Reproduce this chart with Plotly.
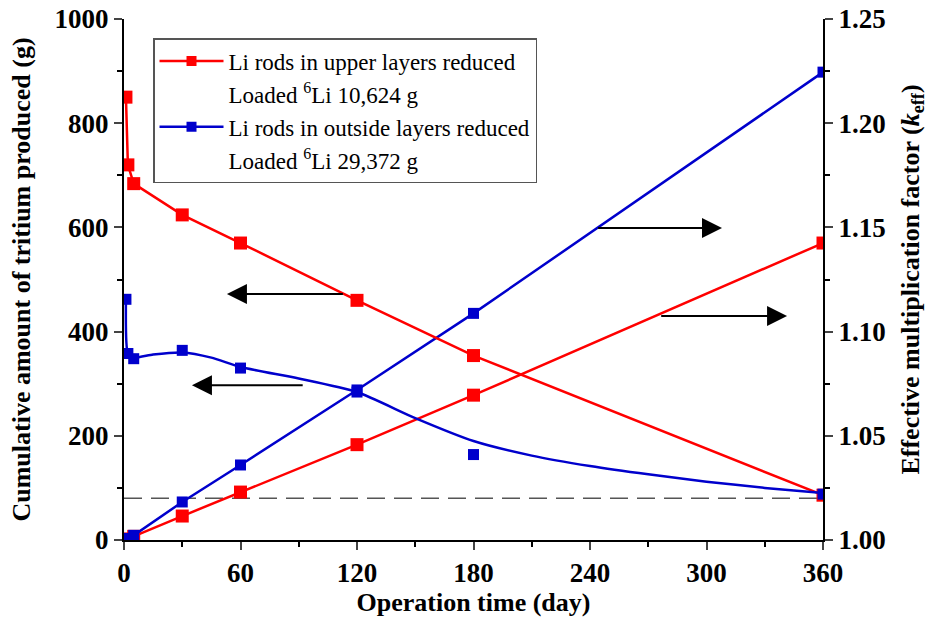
import plotly.graph_objects as go

# Operation time (day) for the sampled points
days = [1, 2, 5, 30, 60, 120, 180, 360]

# Effective multiplication factor at each sampled day
keff_upper = [1.2125, 1.180, 1.171, 1.156, 1.1425, 1.115, 1.0885, 1.0215]
keff_outside = [1.1155, 1.0895, 1.087, 1.091, 1.0825, 1.071, 1.041, 1.022]

# Fitted k_eff curve for the outside-layer case
fit_days = [1, 2, 5, 15, 30, 45, 60, 90, 120, 150, 180, 210, 240, 270, 300, 330, 360]
fit_keff_outside = [1.1155, 1.0895, 1.0875, 1.089, 1.090, 1.0875, 1.083, 1.0775,
                    1.071, 1.0585, 1.0475, 1.0405, 1.0355, 1.0315, 1.028, 1.025, 1.0225]

# Cumulative tritium produced (g)
trit_days = [1, 5, 30, 60, 120, 180, 360]
tritium_upper = [2, 7, 46, 92, 183, 278, 570]
tritium_outside = [3, 9, 73, 144, 288, 435, 898]

keff_limit = 1.02

x_ticks = [0, 60, 120, 180, 240, 300, 360]

legend_rows = [
    ("Li rods in upper layers reduced", "Loaded <sup>6</sup>Li 10,624 g"),
    ("Li rods in outside layers reduced", "Loaded <sup>6</sup>Li 29,372 g"),
]

RED = "#ff0000"
BLUE = "#0000cc"
FONT = "Liberation Serif"

fig = go.Figure()

# k_eff curves (right axis)
fig.add_trace(go.Scatter(x=days, y=keff_upper, yaxis="y2", mode="lines+markers",
                         line=dict(color=RED, width=2.5),
                         marker=dict(symbol="square", size=13, color=RED),
                         showlegend=False))
fig.add_trace(go.Scatter(x=fit_days, y=fit_keff_outside, yaxis="y2", mode="lines",
                         line=dict(color=BLUE, width=2.5, shape="spline", smoothing=0.6),
                         showlegend=False))
fig.add_trace(go.Scatter(x=days, y=keff_outside, yaxis="y2", mode="markers",
                         marker=dict(symbol="square", size=11, color=BLUE),
                         showlegend=False))

# Tritium curves (left axis)
fig.add_trace(go.Scatter(x=trit_days, y=tritium_upper, mode="lines+markers",
                         line=dict(color=RED, width=2.5),
                         marker=dict(symbol="square", size=13, color=RED),
                         showlegend=False))
fig.add_trace(go.Scatter(x=trit_days, y=tritium_outside, mode="lines+markers",
                         line=dict(color=BLUE, width=2.5),
                         marker=dict(symbol="square", size=11, color=BLUE),
                         showlegend=False))

# Legend entries: a symbol row followed by a text-only row for the loaded 6Li mass
for i, ((label, loaded), color) in enumerate(zip(legend_rows, [RED, BLUE])):
    fig.add_trace(go.Scatter(x=[None], y=[None], mode="lines+markers", name=label,
                             legendgroup=f"g{i}a",
                             line=dict(color=color, width=2.5),
                             marker=dict(symbol="square", size=10, color=color)))
    fig.add_trace(go.Scatter(x=[None], y=[None], mode="lines", name=loaded,
                             legendgroup=f"g{i}b",
                             line=dict(color="rgba(0,0,0,0)", width=0)))

# k_eff = 1.02 reference line
fig.add_shape(type="line", xref="paper", x0=0, x1=1, yref="y2", y0=keff_limit, y1=keff_limit,
              line=dict(color="#555555", width=1.5, dash="18px,9px"), layer="below")

# Arrows indicating which axis each curve belongs to
arrows = [
    dict(tail=(113.5, 472), head=(53.0, 472)),
    dict(tail=(92.8, 297), head=(35.0, 297)),
    dict(tail=(243.4, 599), head=(308.0, 599)),
    dict(tail=(275.9, 430), head=(341.5, 430)),
]
for a in arrows:
    fig.add_annotation(x=a["head"][0], y=a["head"][1], ax=a["tail"][0], ay=a["tail"][1],
                       xref="x", yref="y", axref="x", ayref="y", text="",
                       showarrow=True, arrowhead=2, arrowsize=2, arrowwidth=2,
                       arrowcolor="black")

tick_font = dict(family=FONT, size=27, color="black", weight="bold")
title_font = dict(family=FONT, size=26, color="black", weight="bold")

fig.update_layout(
    width=940, height=617,
    margin=dict(l=124, r=117, t=19, b=77, autoexpand=False),
    paper_bgcolor="white", plot_bgcolor="white",
    font=dict(family=FONT, color="black"),
    xaxis=dict(range=[0, 360], tickvals=x_ticks, ticks="outside", ticklen=8, tickwidth=2,
               showline=True, linecolor="black", linewidth=2, showgrid=False, zeroline=False,
               tickfont=tick_font, automargin=False,
               minor=dict(dtick=30, ticks="outside", ticklen=5, tickwidth=2, tickcolor="black"),
               title=dict(text="Operation time (day)", font=title_font, standoff=0)),
    yaxis=dict(range=[0, 1000], dtick=200, ticks="outside", ticklen=8, tickwidth=2,
               showline=True, linecolor="black", linewidth=2, showgrid=False, zeroline=False,
               tickfont=tick_font, automargin=False,
               minor=dict(dtick=100, ticks="outside", ticklen=5, tickwidth=2, tickcolor="black"),
               title=dict(text="Cumulative amount of tritium produced (g)", font=title_font,
                          standoff=16)),
    yaxis2=dict(range=[1.0, 1.25], dtick=0.05, tickformat=".2f", overlaying="y", side="right",
                ticks="outside", ticklen=8, tickwidth=2,
                showline=True, linecolor="black", linewidth=2, showgrid=False, zeroline=False,
                tickfont=tick_font, automargin=False,
                minor=dict(dtick=0.025, ticks="outside", ticklen=5, tickwidth=2, tickcolor="black"),
                title=dict(text="Effective multiplication factor (<i>k</i><sub>eff</sub>)",
                           font=title_font, standoff=16)),
    legend=dict(x=0.0415, y=0.9635, xanchor="left", yanchor="top",
                bgcolor="white", bordercolor="#555555", borderwidth=1.5,
                font=dict(family=FONT, size=23, color="black"),
                tracegroupgap=0, itemwidth=64),
)

fig.write_html("out.html")
